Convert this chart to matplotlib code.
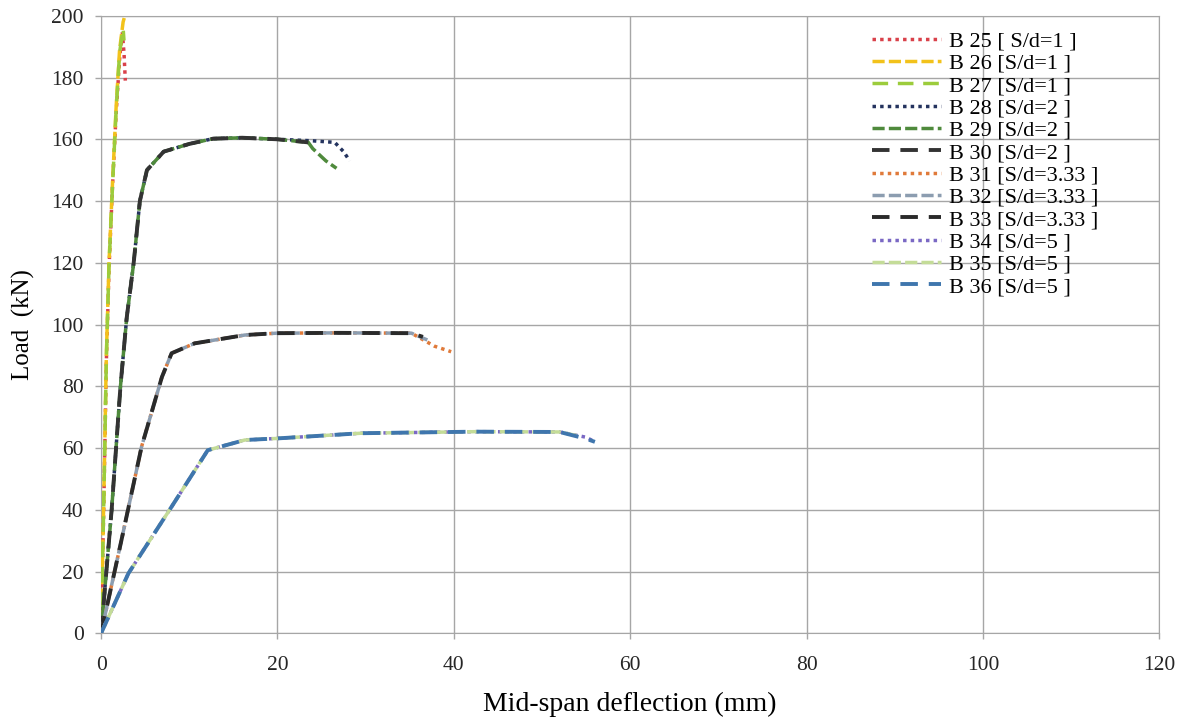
import matplotlib
matplotlib.use("Agg")
import matplotlib.pyplot as plt

plt.rcParams['font.family'] = ['Liberation Serif', 'DejaVu Serif']

# deflection (mm) / load (kN)
b25_x = [0, 0.3, 0.6, 0.9, 1.3, 1.7, 2.1, 2.4, 2.6, 2.75]
b25_y = [0, 40, 88, 118, 145, 168, 186, 195, 188, 179]
b26_x = [0, 0.3, 0.6, 0.9, 1.3, 1.7, 2.1, 2.5, 2.7]
b26_y = [0, 42, 90, 120, 146, 170, 189, 198, 200]
b27_x = [0, 0.3, 0.6, 0.9, 1.3, 1.7, 2.1, 2.5, 2.6]
b27_y = [0, 41, 89, 119, 145, 169, 188, 196, 192]

b28_x = [0, 1.2, 2.2, 2.9, 3.7, 4.4, 5.2, 7.1, 10, 12.7, 16, 20, 24, 26.5, 27.5, 28.2]
b28_y = [0, 40, 80, 102, 120, 140, 150, 156, 158.5, 160.2, 160.5, 160, 159.5, 159, 156, 153]
b29_x = [0, 1.2, 2.2, 2.9, 3.7, 4.4, 5.2, 7.1, 10, 12.7, 16, 20, 23.5, 24, 25.5, 26.7]
b29_y = [0, 40, 80, 102, 120, 140, 150, 156, 158.5, 160.2, 160.5, 160, 159, 157, 153, 150.6]
b30_x = [0, 1.2, 2.2, 2.9, 3.7, 4.4, 5.2, 7.1, 10, 12.7, 16, 20, 23.5]
b30_y = [0, 40, 80, 102, 120, 140, 150, 156, 158.5, 160.2, 160.5, 160, 159]

b31_x = [0, 2.3, 4.6, 6.9, 8.0, 10.6, 16.3, 19.9, 27, 35.2, 37.8, 39.7]
b31_y = [0, 30, 60.5, 83, 90.7, 93.9, 96.6, 97.2, 97.3, 97.2, 93, 91.2]
b32_x = [0, 2.3, 4.6, 6.9, 8.0, 10.6, 16.3, 19.9, 27, 35.2, 37.0]
b32_y = [0, 30, 60.5, 83, 90.7, 93.9, 96.6, 97.2, 97.3, 97.2, 95]
b33_x = [0, 2.3, 4.6, 6.9, 8.0, 10.6, 16.3, 19.9, 27, 35.2, 36.5]
b33_y = [0, 30, 60.5, 83, 90.7, 93.9, 96.6, 97.2, 97.3, 97.2, 96]

b34_x = [0, 3.1, 8.0, 12.1, 16.3, 19.9, 29.5, 42.4, 52, 55, 56]
b34_y = [0, 19.4, 41, 59.3, 62.6, 63.1, 64.8, 65.3, 65.2, 63.5, 62]
b35_x = [0, 3.1, 8.0, 12.1, 16.3, 19.9, 29.5, 42.4, 52, 54]
b35_y = [0, 19.4, 41, 59.3, 62.6, 63.1, 64.8, 65.3, 65.2, 64]
b36_x = [0, 3.1, 8.0, 12.1, 16.3, 19.9, 29.5, 42.4, 52, 55, 56]
b36_y = [0, 19.4, 41, 59.3, 62.6, 63.1, 64.8, 65.3, 65.2, 63, 62]

labels = ['B 25 [ S/d=1 ]', 'B 26 [S/d=1 ]', 'B 27 [S/d=1 ]',
          'B 28 [S/d=2 ]', 'B 29 [S/d=2 ]', 'B 30 [S/d=2 ]',
          'B 31 [S/d=3.33 ]', 'B 32 [S/d=3.33 ]', 'B 33 [S/d=3.33 ]',
          'B 34 [S/d=5 ]', 'B 35 [S/d=5 ]', 'B 36 [S/d=5 ]']

xs = [b25_x, b26_x, b27_x, b28_x, b29_x, b30_x, b31_x, b32_x, b33_x, b34_x, b35_x, b36_x]
ys = [b25_y, b26_y, b27_y, b28_y, b29_y, b30_y, b31_y, b32_y, b33_y, b34_y, b35_y, b36_y]

dot = (0, (1, 1.2))
dash = (0, (3.5, 1.2))
longdash = (0, (4.5, 2.8))
styles = [
    ('#d9414a', dot, 2.5),
    ('#f2c21b', dash, 2.5),
    ('#9ccc3c', longdash, 2.5),
    ('#24335e', dot, 2.5),
    ('#4f8a3c', dash, 2.5),
    ('#333333', longdash, 2.8),
    ('#e07a3a', dot, 2.5),
    ('#8c9db0', dash, 2.5),
    ('#2a2a2a', longdash, 2.8),
    ('#7a68c4', dot, 2.5),
    ('#c4dc98', dash, 2.5),
    ('#3f76ad', longdash, 2.8),
]

fig = plt.figure(figsize=(11.89, 7.18), dpi=100)
ax = fig.add_axes([0.085, 0.118, 0.89, 0.86])

for i in range(len(xs)):
    c, ls, lw = styles[i]
    ax.plot(xs[i], ys[i], color=c, linestyle=ls, linewidth=lw, label=labels[i], zorder=3)

ax.set_xlim(0, 120)
ax.set_ylim(0, 200)
ax.set_xticks(range(0, 121, 20))
ax.set_yticks(range(0, 201, 20))
ax.grid(True, color='#a6a6a6', linewidth=1.0)
ax.set_axisbelow(True)
for s in ax.spines.values():
    s.set_color('#a6a6a6')
ax.tick_params(length=4.5, width=1.0, labelsize=15.5, colors='#262626')
ax.tick_params(axis='x', pad=12)
ax.tick_params(axis='y', pad=8)
ax.tick_params(color='#a6a6a6')

ax.set_xlabel('Mid-span deflection (mm)', fontsize=20, labelpad=12)
ax.set_ylabel('Load  (kN)', fontsize=18, labelpad=12)

leg = ax.legend(loc='upper left', bbox_to_anchor=(0.72, 0.99), frameon=False,
                fontsize=16, handlelength=3.1, handletextpad=0.35,
                labelspacing=0.08, borderaxespad=0)

fig.savefig('out.png', dpi=100)
